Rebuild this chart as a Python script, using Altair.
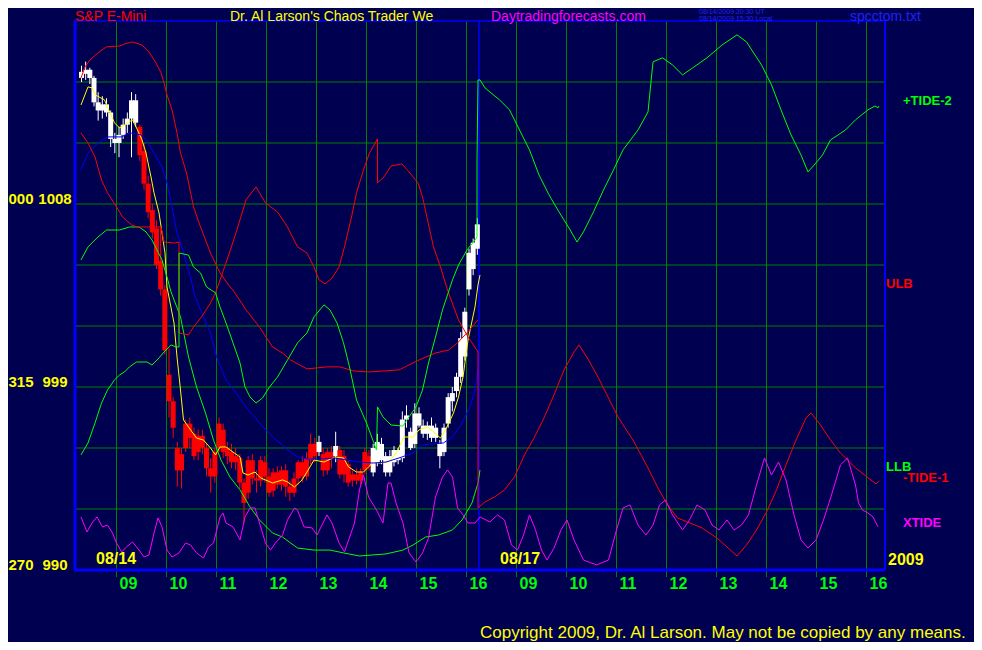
import altair as alt
import pandas as pd

# ---------------- data ----------------
BAR_START = 8.30          # first 5-minute bar (hours, day 1)
BAR_STEP = 5 / 60

bar_open = [1014.2,1014.4,1014.6,1014.2,1013.0,1012.6,1012.9,1012.5,1011.2,1011.0,
            1011.4,1011.9,1012.2,1013.1,1011.8,1010.6,1009.0,1007.7,1006.8,1005.2,
            1003.8,999.6,998.3,996.0,994.9,996.0,997.2,996.7,995.8,996.6,
            996.0,995.0,994.6,996.0,996.9,996.0,995.8,995.3,995.5,994.3,
            993.8,995.4,994.5,994.4,995.3,994.6,993.9,994.8,994.2,994.9,
            994.1,993.8,994.5,995.3,994.6,995.4,996.2,995.8,995.7,994.9,
            995.8,995.6,995.9,994.7,995.2,994.4,994.7,994.4,994.9,995.6,
            994.8,995.3,996.2,995.6,994.8,995.3,995.9,995.5,997.4,996.8,
            996.2,997.7,997.1,996.7,997.1,996.5,996.2,995.8,997.2,998.3,
            998.8,999.5,1000.5,1003.8,1004.8,1005.8]
bar_high = [1014.8,1015.0,1014.7,1014.3,1013.5,1013.3,1013.2,1012.6,1011.5,1011.8,
            1012.2,1012.5,1013.5,1013.4,1011.9,1011.0,1009.4,1008.0,1007.2,1006.8,
            1004.0,1000.9,998.5,996.3,996.0,997.4,997.5,997.0,996.9,996.9,
            996.2,995.5,996.0,997.5,997.2,996.3,996.2,996.0,995.7,994.5,
            995.6,995.7,994.9,995.6,995.6,995.0,995.0,995.1,995.1,995.2,
            994.4,994.8,995.4,995.6,995.8,996.7,996.5,996.6,996.0,996.0,
            996.1,996.8,996.1,995.9,995.4,994.9,995.0,995.0,996.0,995.9,
            996.2,996.7,996.5,995.8,995.9,996.1,996.0,997.8,998.1,997.0,
            998.2,998.0,997.4,997.3,997.5,997.2,996.4,997.2,998.7,999.0,
            999.7,1001.7,1002.9,1005.8,1006.3,1007.3]
bar_low = [1014.0,1014.1,1013.9,1012.8,1012.1,1012.2,1012.3,1010.8,1010.5,1010.3,
           1011.2,1011.5,1010.3,1011.8,1010.1,1008.7,1007.3,1006.3,1004.8,1003.5,
           1000.6,997.5,996.5,994.1,994.0,995.8,996.0,995.4,995.4,995.7,
           994.6,993.8,994.3,995.8,995.5,995.2,995.0,994.9,994.0,992.3,
           993.5,994.2,993.8,994.1,994.3,993.6,993.6,994.0,993.9,993.6,
           993.4,993.6,994.2,994.3,994.4,995.2,995.3,995.6,994.6,994.7,
           995.0,995.3,994.5,994.3,994.1,994.1,994.2,994.2,994.7,994.9,
           994.6,995.1,995.2,994.6,994.6,995.1,995.2,995.3,997.0,995.9,
           996.0,997.0,996.5,996.4,996.3,996.3,995.0,995.6,997.0,997.8,
           998.5,999.2,1000.3,1003.5,1004.5,1005.5]
bar_close = [1014.5,1014.6,1014.2,1013.0,1012.6,1012.9,1012.5,1011.2,1011.0,1011.4,
             1011.9,1012.2,1013.1,1012.0,1010.4,1009.0,1007.6,1006.6,1005.0,1003.8,
             1000.8,998.3,997.0,994.9,995.7,997.2,996.5,995.6,996.6,996.0,
             995.0,994.6,995.8,997.2,995.8,995.6,995.3,995.6,994.3,993.3,
             995.4,994.5,994.4,995.4,994.6,993.8,994.8,994.2,994.9,994.1,
             993.8,994.5,995.3,994.6,995.5,996.2,995.6,996.3,994.9,995.8,
             995.5,996.1,994.7,995.6,994.3,994.7,994.4,994.8,995.8,995.1,
             996.0,996.3,995.4,994.8,995.6,995.9,995.4,997.4,997.6,996.0,
             997.7,997.1,996.7,997.1,996.5,997.0,995.6,997.0,998.5,998.7,
             999.5,1001.4,1002.7,1005.6,1006.1,1007.0]
bar_kind = list("W" * 14 + "R" * 43 + "W" + "RRR" + "W" + "R" * 8 + "W" * 26)

yellow_avg = [(8.29,1012.87),(8.43,1013.76),(8.51,1013.71),(8.57,1013.37),(8.76,1013.12),(8.82,1012.77),
              (8.96,1011.99),(9.06,1011.74),(9.16,1011.89),(9.32,1012.14),(9.42,1011.64),(9.51,1011.15),
              (9.59,1010.51),(9.69,1009.33),(9.75,1008.55),(9.85,1007.56),(9.91,1006.58),(9.97,1005.59),
              (10.01,1003.92),(10.15,1002.15),(10.21,1000.48),(10.28,998.85),(10.34,997.38),(10.44,997.03),
              (10.60,996.49),(10.74,996.39),(10.88,996.0),(10.98,995.66),(11.07,996.05),(11.19,996.05),
              (11.33,995.80),(11.47,995.56),(11.53,994.77),(11.63,994.67),(11.77,994.82),(11.88,994.53),
              (12.12,994.28),(12.32,994.43),(12.42,994.33),(12.56,994.08),(12.71,994.43),(12.81,994.82),
              (12.95,995.41),(13.15,995.31),(13.37,995.56),(13.54,995.51),(13.64,995.07),(13.80,994.82),
              (13.94,994.82),(14.04,995.07),(14.14,995.31),(14.25,995.26),(14.45,995.31),(14.59,995.75),
              (14.75,996.54),(14.93,996.54),(15.05,996.89),(15.22,997.03),(15.34,996.79),(15.48,996.49),
              (15.58,996.89),(15.74,997.72),(15.84,998.51),(15.93,999.49),(16.03,1001.31),(16.17,1002.94),
              (16.23,1004.02),(16.27,1004.51)]
blue_avg = [(8.29,1009.68),(8.43,1010.51),(8.63,1011.0),(8.82,1011.30),(9.10,1011.30),(9.26,1011.50),
            (9.49,1011.40),(9.59,1011.15),(9.75,1010.51),(9.91,1009.82),(10.01,1009.04),(10.11,1007.86),
            (10.21,1006.58),(10.34,1005.59),(10.48,1004.41),(10.56,1003.53),(10.68,1002.79),(10.88,1001.66),
            (11.00,1000.48),(11.19,999.35),(11.39,998.71),(11.59,998.02),(11.86,997.23),(12.12,996.54),
            (12.32,996.15),(12.42,995.90),(12.62,995.56),(12.81,995.46),(13.07,995.46),(13.35,995.51),
            (13.60,995.41),(13.86,995.31),(14.14,995.26),(14.39,995.31),(14.65,995.51),(14.93,995.75),
            (15.12,996.15),(15.32,996.20),(15.54,996.25),(15.72,996.54),(15.91,997.23),(16.07,998.02),
            (16.17,998.85),(16.25,1000.3)]
ulb = [(8.29,1014.20),(8.37,1014.74),(8.47,1015.09),(8.63,1015.43),(8.80,1015.73),(9.06,1015.77),
       (9.16,1015.87),(9.32,1015.97),(9.51,1015.82),(9.65,1015.48),(9.79,1014.94),(9.89,1014.45),
       (9.95,1013.96),(10.01,1013.37),(10.11,1012.63),(10.21,1011.50),(10.28,1010.51),(10.40,1009.53),
       (10.54,1007.86),(10.68,1006.87),(10.88,1005.59),(11.07,1004.61),(11.27,1003.92),(11.33,1003.77),
       (11.59,1002.79),(11.86,1001.95),(12.12,1000.97),(12.32,1000.67),(12.48,1000.33),(12.81,999.89),
       (13.21,999.99),(13.47,999.99),(13.74,999.79),(14.06,999.74),(14.65,999.84),(15.05,1000.33),
       (15.38,1000.67),(15.64,1000.82),(15.82,1001.17),(15.97,1001.56),(16.11,1001.95),(16.23,1002.30)]
llb = [(8.29,1005.25),(8.43,1005.89),(8.63,1006.38),(8.80,1006.72),(9.06,1006.72),(9.26,1006.87),
       (9.45,1006.87),(9.59,1006.63),(9.71,1006.23),(9.81,1005.74),(9.91,1005.25),(10.01,1004.41),
       (10.09,1003.68),(10.28,1002.45),(10.44,1000.48),(10.60,999.0),(10.78,997.72),(10.94,996.39),
       (11.09,995.41),(11.27,994.57),(11.47,993.94),(11.67,993.10),(11.86,992.46),(12.12,991.82),
       (12.32,991.62),(12.62,991.08),(12.95,990.98),(13.27,990.98),(13.54,990.84),(13.86,990.69),
       (14.39,990.79),(14.73,990.98),(14.93,991.23),(15.18,991.62),(15.44,991.72),(15.72,991.97),
       (15.91,992.46),(16.11,993.30),(16.23,994.28),(16.27,994.92)]
tide_minus1 = [(8.29,1011.50),(8.43,1011.0),(8.57,1010.32),(8.70,1009.18),(8.82,1008.55),(9.00,1007.86),
               (9.12,1007.36),(9.30,1006.97),(9.42,1006.87),(9.89,1006.87),(9.95,1006.13),(10.15,1006.08),
               (10.25,1006.13),(10.25,1001.66),(10.44,1001.56),(10.54,1001.95),(10.70,1002.45),(10.88,1003.13),
               (10.98,1003.63),(11.19,1005.10),(11.39,1006.58),(11.59,1008.20),(11.79,1008.84),(11.98,1008.05),
               (12.22,1007.61),(12.42,1006.87),(12.62,1005.89),(12.81,1005.59),(12.95,1004.90),(13.05,1004.27),
               (13.17,1004.07),(13.31,1004.36),(13.45,1004.90),(13.56,1005.89),(13.70,1007.36),(13.80,1008.55),
               (13.94,1009.68),(14.06,1010.51),(14.22,1011.20),(14.22,1009.04),(14.35,1009.33),(14.49,1009.87),
               (14.71,1009.97),(14.85,1009.58),(15.03,1009.04),(15.12,1008.35),(15.22,1007.22),(15.34,1005.89),
               (15.48,1004.90),(15.62,1003.77),(15.84,1002.30),(16.03,1001.46),(16.23,1000.72),(16.23,993.05),
               (16.37,993.35),(16.56,993.59),(16.76,993.94),(16.96,994.57),(17.16,995.66),(17.35,996.49),
               (17.55,997.48),(17.75,998.61),(17.95,999.84),(18.15,1000.72),(18.25,1001.07),(18.44,1000.33),
               (18.64,999.44),(18.84,998.46),(19.04,997.48),(19.33,996.39),(19.63,995.02),(19.83,994.03),
               (20.02,993.20),(20.22,992.56),(20.42,992.36),(20.71,992.07),(21.01,991.57),(21.21,991.13),
               (21.41,990.69),(21.60,991.23),(21.80,991.97),(22.00,992.85),(22.20,993.94),(22.39,995.17),
               (22.59,996.39),(22.79,997.48),(22.89,997.72),(23.08,997.13),(23.28,996.39),(23.48,995.75),
               (23.78,995.02),(24.19,994.23),(24.25,994.38)]
tide_plus2 = [(8.29,995.66),(8.43,996.25),(8.57,997.23),(8.70,998.21),(8.82,998.85),(8.96,999.35),
              (9.06,999.59),(9.16,999.74),(9.26,999.99),(9.40,1000.23),(9.61,1000.23),(9.71,1000.08),
              (9.85,1000.43),(9.95,1000.72),(10.09,1001.07),(10.19,1000.97),(10.25,1000.97),(10.25,1005.59),
              (10.44,1005.49),(10.54,1004.90),(10.68,1004.61),(10.80,1003.92),(10.98,1003.63),(11.07,1002.94),
              (11.19,1002.15),(11.33,1001.17),(11.47,1000.18),(11.57,999.0),(11.67,998.51),(11.79,998.21),
              (11.92,998.46),(12.06,999.0),(12.22,999.49),(12.42,1000.33),(12.62,1001.17),(12.81,1001.66),
              (12.95,1002.45),(13.15,1003.04),(13.27,1002.79),(13.41,1002.15),(13.54,1001.17),(13.66,999.99),
              (13.80,998.36),(14.00,997.23),(14.20,995.90),(14.22,998.02),(14.33,997.53),(14.49,997.13),
              (14.73,997.08),(14.85,997.53),(14.99,998.02),(15.12,998.85),(15.24,1000.18),(15.38,1001.46),
              (15.52,1002.79),(15.62,1003.53),(15.72,1004.27),(15.84,1005.0),(16.01,1005.74),(16.17,1006.23),
              (16.21,1006.38),(16.21,1010.27),(16.23,1014.10),(16.27,1014.10),(16.37,1013.71),(16.66,1013.12),
              (16.86,1012.63),(17.06,1011.64),(17.26,1010.66),(17.45,1009.43),(17.65,1008.45),(17.85,1007.61),
              (18.05,1006.82),(18.21,1006.13),(18.34,1006.63),(18.54,1007.61),(18.74,1008.69),(18.94,1009.68),
              (19.13,1010.66),(19.43,1011.64),(19.63,1012.53),(19.73,1014.99),(19.92,1015.19),(20.12,1014.84),
              (20.32,1014.35),(20.52,1014.69),(20.81,1015.19),(21.11,1015.82),(21.41,1016.32),(21.60,1015.97),
              (21.90,1014.84),(22.10,1013.86),(22.29,1012.63),(22.49,1011.40),(22.69,1010.41),(22.83,1009.58),
              (22.99,1010.02),(23.12,1010.41),(23.28,1011.15),(23.58,1011.64),(23.78,1012.14),(24.03,1012.63),
              (24.17,1012.82),(24.23,1012.73),(24.25,1012.82)]
xtide = [(8.29,992.61),(8.41,991.87),(8.51,992.31),(8.61,992.61),(8.72,992.12),(8.82,992.21),(8.92,991.82),
         (9.00,991.33),(9.10,990.89),(9.20,991.13),(9.32,991.38),(9.45,990.98),(9.55,990.64),(9.65,990.74),
         (9.75,991.82),(9.83,992.56),(9.91,992.12),(10.01,990.98),(10.11,990.64),(10.25,990.84),(10.38,991.33),
         (10.48,991.23),(10.60,990.84),(10.74,990.59),(10.84,991.13),(10.94,991.33),(11.07,992.61),(11.13,992.80),
         (11.19,992.31),(11.33,992.12),(11.47,991.48),(11.57,992.61),(11.67,993.05),(11.77,993.05),(11.86,992.31),
         (11.98,991.33),(12.08,990.98),(12.18,991.33),(12.32,991.72),(12.42,992.46),(12.56,993.05),(12.62,992.95),
         (12.75,992.12),(12.91,992.07),(13.01,991.72),(13.21,992.71),(13.31,992.31),(13.45,991.33),(13.56,990.89),
         (13.76,992.31),(13.86,993.94),(13.94,994.67),(14.04,993.59),(14.20,992.95),(14.33,992.31),(14.43,994.28),
         (14.49,994.28),(14.59,993.30),(14.73,992.31),(14.85,990.84),(14.99,990.39),(15.12,990.84),(15.24,991.57),
         (15.38,993.59),(15.52,994.57),(15.62,994.92),(15.72,994.57),(15.82,993.05),(15.93,992.71),(16.03,992.31),
         (16.17,992.31),(16.27,992.61),(16.47,992.36),(16.62,992.71),(16.76,992.46),(16.90,991.23),(17.02,990.98),
         (17.14,991.72),(17.26,992.71),(17.38,991.97),(17.50,990.98),(17.61,990.49),(17.75,991.08),(17.89,991.97),
         (18.01,992.46),(18.15,991.48),(18.34,990.49),(18.60,990.25),(18.84,990.49),(19.00,991.97),(19.13,993.05),
         (19.27,993.20),(19.43,992.21),(19.59,991.72),(19.73,992.21),(19.86,993.20),(19.98,993.44),(20.12,992.71),
         (20.32,991.97),(20.46,992.46),(20.61,993.20),(20.77,992.95),(20.91,992.21),(21.05,991.97),(21.21,992.46),
         (21.35,991.97),(21.50,992.21),(21.64,992.71),(21.80,994.18),(21.96,995.51),(22.10,994.67),(22.24,995.31),
         (22.39,994.43),(22.55,992.71),(22.69,991.48),(22.83,991.08),(22.99,991.48),(23.14,992.46),(23.30,993.69),
         (23.48,995.17),(23.62,995.51),(23.78,994.18),(23.84,993.30),(23.92,992.95),(24.03,992.80),(24.13,992.61),
         (24.23,992.12)]

hour_ticks = [9, 10, 11, 12, 13, 14, 15, 16, 17, 18, 19, 20, 21, 22, 23, 24]
hour_labels = ["09", "10", "11", "12", "13", "14", "15", "16",
               "09", "10", "11", "12", "13", "14", "15", "16"]
price_grid = [993, 996, 999, 1002, 1005, 1008, 1011, 1014]
price_ticks = [1008, 999, 990]
price_tick_labels = ["1008", "999", "990"]
angle_tick_labels = ["000", "315", "270"]
day_break = [16.25]

# ---------------- build ----------------
W, H = 810, 549
BG = "#000050"
GRID = "#008000"
SANS = "Liberation Sans, Arial, sans-serif"

xs = alt.Scale(domain=[8.25, 24.25], nice=False, zero=False)
ys = alt.Scale(domain=[990, 1017], nice=False, zero=False)


def X(f="t"):
    return alt.X(f"{f}:Q", scale=xs, axis=None)


def Y(f="p"):
    return alt.Y(f"{f}:Q", scale=ys, axis=None)


kind_hex = {"W": "#ffffff", "R": "#ff0000"}
bars = pd.DataFrame({
    "t": [BAR_START + i * BAR_STEP for i in range(len(bar_open))],
    "o": bar_open, "h": bar_high, "l": bar_low, "c": bar_close,
    "col": [kind_hex[k] for k in bar_kind],
})

series = [("yellow", yellow_avg, "#ffff00"), ("blue", blue_avg, "#0000ff"),
          ("ulb", ulb, "#ff0000"), ("llb", llb, "#00ff00"),
          ("tm1", tide_minus1, "#ff0000"), ("tp2", tide_plus2, "#00ff00"),
          ("xtide", xtide, "#ff00ff")]
rows = []
for name, pts, col in series:
    for i, (t, p) in enumerate(pts):
        rows.append({"s": name, "i": i, "t": t, "p": p, "col": col})
lines_df = pd.DataFrame(rows)

one = pd.DataFrame({"k": [0]})

vgrid = alt.Chart(pd.DataFrame({"t": hour_ticks})).mark_rule(color=GRID, strokeWidth=1).encode(
    x=X(), y=alt.value(0), y2=alt.value(H + 7))
hgrid = alt.Chart(pd.DataFrame({"p": price_grid})).mark_rule(color=GRID, strokeWidth=1).encode(
    y=Y(), x=alt.value(0), x2=alt.value(W))
daybreak = alt.Chart(pd.DataFrame({"t": day_break})).mark_rule(color="#0000ff", strokeWidth=1.5).encode(
    x=X(), y=alt.value(0), y2=alt.value(H))

wicks = alt.Chart(bars).mark_rule(strokeWidth=1).encode(
    x=X(), y=Y("l"), y2="h", color=alt.Color("col:N", scale=None))
bodies = alt.Chart(bars).mark_bar(size=5).encode(
    x=X(), y=Y("o"), y2="c", color=alt.Color("col:N", scale=None))

lines = alt.Chart(lines_df).mark_line(strokeWidth=1).encode(
    x=X(), y=Y(), order="i:Q", detail="s:N", color=alt.Color("col:N", scale=None))

frame = [
    alt.Chart(one).mark_rule(color="#0000ff", strokeWidth=3).encode(x=alt.value(1), y=alt.value(0), y2=alt.value(H)),
    alt.Chart(one).mark_rule(color="#0000ff", strokeWidth=3).encode(x=alt.value(0), x2=alt.value(W + 1), y=alt.value(H)),
    alt.Chart(one).mark_rule(color="#0000ff", strokeWidth=2).encode(x=alt.value(W + 1), y=alt.value(0), y2=alt.value(H)),
    alt.Chart(one).mark_rule(color="#0000ff", strokeWidth=1.5).encode(x=alt.value(0), x2=alt.value(W + 1), y=alt.value(0)),
]

xlabels = alt.Chart(pd.DataFrame({"t": hour_ticks, "lab": hour_labels})).mark_text(
    align="left", baseline="alphabetic", dx=3, color="#00ff00", font=SANS, fontSize=16, fontWeight="bold"
).encode(x=X(), y=alt.value(H + 19), text="lab:N")

ylab_df = pd.DataFrame({"p": price_ticks, "a": angle_tick_labels, "v": price_tick_labels})
ylab1 = alt.Chart(ylab_df).mark_text(align="center", baseline="alphabetic", color="#ffff00",
                                     font=SANS, fontSize=15, fontWeight="bold").encode(
    y=Y(), x=alt.value(-53), text="a:N")
ylab2 = alt.Chart(ylab_df).mark_text(align="center", baseline="alphabetic", color="#ffff00",
                                     font=SANS, fontSize=15, fontWeight="bold").encode(
    y=Y(), x=alt.value(-19), text="v:N")


def label(txt, x, y, color, size, weight="bold", align="left"):
    return alt.Chart(one).mark_text(align=align, baseline="alphabetic", color=color,
                                    fontSize=size, font=SANS, fontWeight=weight).encode(
        x=alt.value(x), y=alt.value(y), text=alt.value(txt))


texts = [
    label("S&P E-Mini", 1, 0, "#ff0000", 14, "normal"),
    label("Dr. Al Larson's Chaos Trader We", 156, 0, "#ffff00", 14, "normal"),
    label("Daytradingforecasts.com", 417, 0, "#ff00ff", 14, "normal"),
    label("08/14/2009 20:30 UT", 625, -7, "#2020ff", 7, "normal"),
    label("08/14/2009 15:30 Local", 625, 0, "#2020ff", 7, "normal"),
    label("spcctom.txt", 776, 0, "#2020ff", 14, "normal"),
    label("+TIDE-2", 829, 84, "#00ff00", 13),
    label("ULB", 812, 267, "#ff0000", 13),
    label("LLB", 812, 450, "#00ff00", 13),
    label("-TIDE-1", 829, 461, "#ff0000", 13),
    label("XTIDE", 829, 506, "#ff00ff", 13),
    label("08/14", 22, 543, "#ffff00", 16),
    label("08/17", 426, 543, "#ffff00", 16),
    label("2009", 814, 544, "#ffff00", 16),
    label("Copyright 2009, Dr. Al Larson. May not be copied by any means.", 406, 617, "#ffff00", 17, "normal"),
]

chart = alt.layer(
    vgrid, hgrid, daybreak, wicks, bodies, lines, *frame, xlabels, ylab1, ylab2, *texts
).properties(
    width=W, height=H, background=BG,
    padding={"left": 66, "top": 13, "right": 90, "bottom": 72},
    autosize=alt.AutoSizeParams(type="none"),
).configure_view(strokeWidth=0)

chart.save("out.html", embed_options={"renderer": "svg", "actions": False})
